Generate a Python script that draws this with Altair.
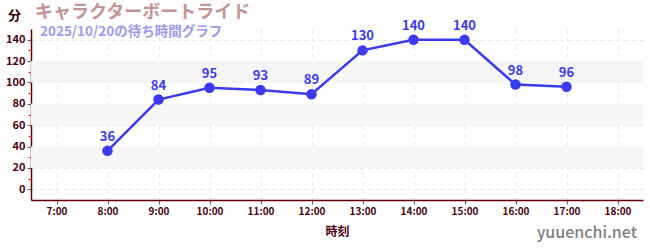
import altair as alt
import pandas as pd

hours = [8, 9, 10, 11, 12, 13, 14, 15, 16, 17]
waits = [36, 84, 95, 93, 89, 130, 140, 140, 98, 96]
band_lo = [20, 60, 100]
band_hi = [40, 80, 120]
major_y = [0, 20, 40, 60, 80, 100, 120, 140]
minor_y = [10, 30, 50, 70, 90, 110, 130]
x_ticks = list(range(7, 19))

title_text = "キャラクターボートライド"
subtitle_text = "2025/10/20の待ち時間グラフ"
site = "yuuenchi.net"

FONT = "Noto Sans CJK JP"
AX = "#4d0010"

df = pd.DataFrame({"hour": hours, "wait": waits})
bands = pd.DataFrame({"lo": band_lo, "hi": band_hi})

xs = alt.Scale(domain=[6.5, 18.5], nice=False, zero=False)
ys = alt.Scale(domain=[-10, 150], nice=False, zero=False)

xaxis = alt.Axis(values=x_ticks, labelExpr="datum.value + ':00'", title="時刻",
                 labelFont=FONT, labelFontSize=10, labelFontWeight="bold", labelColor=AX,
                 titleFont=FONT, titleFontSize=12, titleFontWeight="bold", titleColor=AX,
                 titlePadding=10, domainColor="#660000", domainWidth=1.5,
                 tickColor="#666666", tickSize=4, grid=True, gridColor="#e6e6e6",
                 gridDash=[4, 4])
yaxis = alt.Axis(values=major_y, title="分", titleAngle=0, titleX=-17, titleY=-14,
                 titleAlign="center", titleBaseline="middle",
                 titleFont=FONT, titleFontSize=13, titleFontWeight="bold", titleColor="#330000",
                 labelFont=FONT, labelFontSize=11, labelFontWeight="bold", labelColor=AX,
                 labelPadding=2, domainColor="#660000", domainWidth=1.5,
                 tickColor="#666666", tickSize=4, grid=True, gridColor="#e6e6e6",
                 gridDash=[4, 4])

band_layer = alt.Chart(bands).mark_rect(color="#f6f6f6").encode(
    y=alt.Y("lo:Q", scale=ys, axis=yaxis),
    y2="hi:Q",
)

minor_layer = alt.Chart(pd.DataFrame({"v": minor_y})).mark_point(opacity=0).encode(
    y=alt.Y("v:Q", scale=ys, axis=alt.Axis(values=minor_y, orient="left", labels=False,
                                            title=None, grid=False, domain=False,
                                            tickColor="#ee3333", tickSize=3)),
)

base = alt.Chart(df).encode(
    x=alt.X("hour:Q", scale=xs, axis=xaxis),
    y=alt.Y("wait:Q", scale=ys, axis=None),
)
line = base.mark_line(color="#3a3aee", strokeWidth=2.5)
pts = base.mark_point(filled=True, color="#3a3aee", size=110, opacity=1)
labels = base.mark_text(dy=-14, font=FONT, fontSize=13, fontWeight="bold",
                        color="#3a3aee").encode(text="wait:Q")

wm = alt.Chart(pd.DataFrame({"t": [site]})).mark_text(
    font=FONT, fontSize=16, fontWeight=500, color="#7f7f7f", align="right",
    baseline="middle"
).encode(x=alt.value(606), y=alt.value(204), text="t:N")

ttl = alt.Chart(pd.DataFrame({"t": [title_text]})).mark_text(
    font=FONT, fontSize=18, fontWeight="bold", color="#c49494", align="left",
    baseline="middle"
).encode(x=alt.value(4), y=alt.value(-16), text="t:N")

sub = alt.Chart(pd.DataFrame({"t": [subtitle_text]})).mark_text(
    font=FONT, fontSize=13.5, fontWeight="bold", color="#9a9af0", align="left",
    baseline="middle"
).encode(x=alt.value(9), y=alt.value(3), text="t:N")

chart = alt.layer(band_layer, minor_layer, line, pts, labels, wm, ttl, sub).resolve_axis(
    y="independent"
).properties(
    width=612, height=171,
    autosize=alt.AutoSizeParams(type="none"),
    padding={"left": 31, "top": 29, "right": 7, "bottom": 50},
).configure_view(stroke=None, clip=False)

chart.save("out.html", embed_options={"renderer": "svg", "actions": False})
